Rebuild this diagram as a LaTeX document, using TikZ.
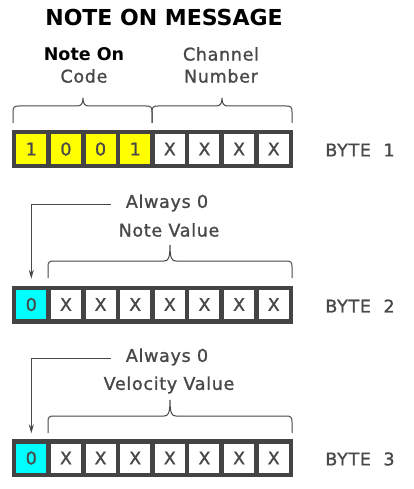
\documentclass[tikz,border=0pt]{standalone}
\usepackage{fontspec}
\setmainfont{DejaVu Sans}
\newfontfamily\labfont[LetterSpace=4,FakeBold=1.2]{DejaVu Sans}
\newfontfamily\cellfont[FakeBold=1.2]{DejaVu Sans}
\usetikzlibrary{arrows.meta}
\definecolor{ink}{RGB}{72,72,72}
\definecolor{bardark}{RGB}{68,68,68}
\definecolor{yel}{RGB}{255,255,0}
\definecolor{cya}{RGB}{0,255,255}
\tikzset{
  lab/.style={text=ink, font=\labfont\fontsize{17.5}{19}\selectfont, inner sep=0pt},
  boldlab/.style={text=black, font=\fontsize{17.5}{19}\selectfont\bfseries, inner sep=0pt},
  titlelab/.style={text=black, font=\fontsize{22}{24}\selectfont\bfseries, inner sep=0pt},
  barbox/.style={fill=bardark, draw=none, minimum width=281pt, minimum height=38pt, inner sep=0pt},
  cellbox/.style={fill=white, draw=none, minimum width=30pt, minimum height=29pt, inner sep=0pt, text=ink, font=\cellfont\fontsize{17.5}{19}\selectfont},
  bracel/.style={draw=ink, line width=1pt},
  arr/.style={draw=ink, line width=1pt, -{Stealth[length=9pt,width=5pt]}},
}
% brace: x1, x2, tipx, tipy, horizontal y, bottom y
\newcommand{\mybrace}[6]{%
  \draw[bracel] (#1,#6) -- (#1,#5+6) .. controls (#1,#5+1) and (#1+1,#5) .. (#1+6,#5)
    -- (#3-6,#5) .. controls (#3-2,#5) and (#3,#5-2) .. (#3,#4)
    .. controls (#3,#5-2) and (#3+2,#5) .. (#3+6,#5)
    -- (#2-6,#5) .. controls (#2-1,#5) and (#2,#5+1) .. (#2,#5+6) -- (#2,#6);}
\begin{document}
\begin{tikzpicture}[x=1pt,y=-1pt]
\useasboundingbox (0,0) rectangle (414,489);
\fill[white] (0,0) rectangle (414,489);

\node[titlelab] (title) at (164,17.5) {NOTE ON MESSAGE};

% ---- Byte 1
\node[boldlab] (noteon) at (84,54) {Note On};
\node[lab] (code) at (84,76) {Code};
\node[lab] (channel) at (221,54) {Channel};
\node[lab] (number) at (221,76) {Number};
\mybrace{13}{152}{83}{98}{106}{123}
\mybrace{152}{292}{222}{98}{106}{123}
\node[barbox] (bar1) at (152.5,149) {};
\foreach \i/\t/\c in {1/1/yel,2/0/yel,3/0/yel,4/1/yel,5/X/white,6/X/white,7/X/white,8/X/white}
  \node[cellbox, fill=\c] (b1c\i) at ({31.3+(\i-1)*34.63},149) {\t};
\node[lab] (byte1) at (360,150) {BYTE\ \ 1};

% ---- Byte 2
\node[lab] (al2) at (167,203) {Always 0};
\node[lab] (nv) at (169,230) {Note Value};
\mybrace{48}{292}{170}{245}{261}{278}
\node[barbox] (bar2) at (152.5,304.5) {};
\foreach \i/\t/\c in {1/0/cya,2/X/white,3/X/white,4/X/white,5/X/white,6/X/white,7/X/white,8/X/white}
  \node[cellbox, fill=\c] (b2c\i) at ({31.3+(\i-1)*34.63},304.5) {\t};
\node[lab] (byte2) at (360,306) {BYTE\ \ 2};
\draw[arr, shorten >=11pt] ([xshift=-15pt,yshift=-1.5pt]al2.west) -| (b2c1.north);

% ---- Byte 3
\node[lab] (al3) at (167,357) {Always 0};
\node[lab] (vv) at (169,385) {Velocity Value};
\mybrace{48}{292}{170}{400}{416}{433}
\node[barbox] (bar3) at (152.5,458) {};
\foreach \i/\t/\c in {1/0/cya,2/X/white,3/X/white,4/X/white,5/X/white,6/X/white,7/X/white,8/X/white}
  \node[cellbox, fill=\c] (b3c\i) at ({31.3+(\i-1)*34.63},458) {\t};
\node[lab] (byte3) at (360,459) {BYTE\ \ 3};
\draw[arr, shorten >=10pt] ([xshift=-15pt,yshift=-1.5pt]al3.west) -| (b3c1.north);
\end{tikzpicture}
\end{document}
